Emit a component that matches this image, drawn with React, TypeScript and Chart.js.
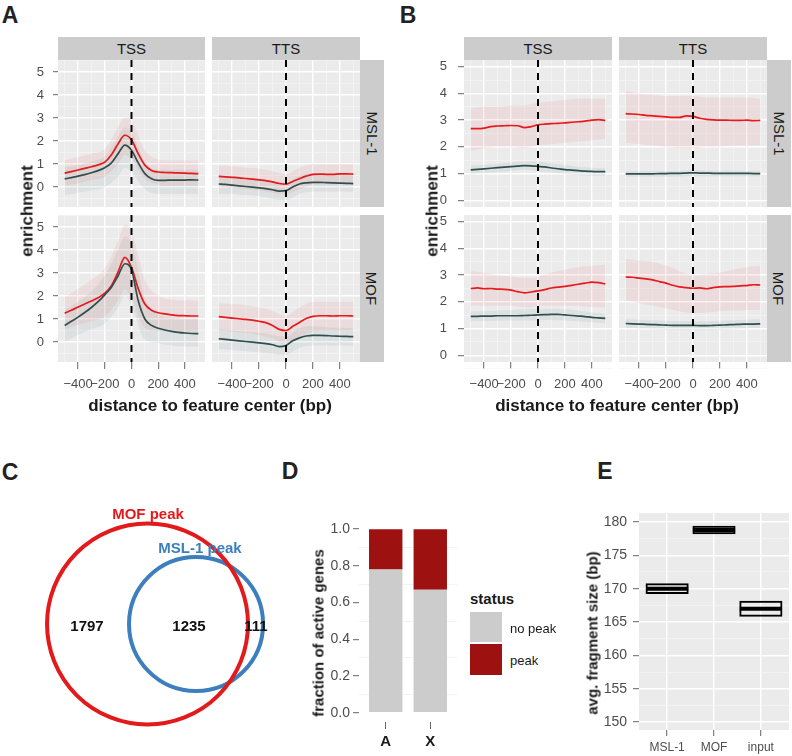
import React, { useEffect, useRef } from 'react';
import { Chart, registerables } from 'chart.js';

Chart.register(...registerables);
const FONT = '"Liberation Sans", Arial, Helvetica, sans-serif';
Chart.defaults.font.family = FONT;

// ---------- shared axes for panels A and B ----------
const X_BP = [-500, -450, -400, -350, -300, -250, -200, -150, -100, -50, 0, 50, 100, 150, 200, 250, 300, 350, 400, 450, 500];
const RIB_X = [-500, -400, -300, -200, -100, -50, 0, 100, 200, 300, 400, 500];
const X_GRID = [-500, -400, -300, -200, -100, 0, 100, 200, 300, 400, 500];
const X_MAJOR = [-400, -200, 0, 200, 400];
const X_RANGE = [-550, 550];
const VLINE_X = [0];
const Y_GRID = [-0.5, 0, 0.5, 1, 1.5, 2, 2.5, 3, 3.5, 4, 4.5, 5, 5.5];
const Y_MAJOR = [0, 1, 2, 3, 4, 5];
const A_Y_RANGE = [-0.87, 5.52];
const B_Y_RANGE = [-0.25, 5.25];

// ---------- panel A ----------
const A_TSS_MSL1_RED = [0.60, 0.67, 0.74, 0.81, 0.88, 0.96, 1.08, 1.40, 1.88, 2.25, 2.05, 1.45, 0.95, 0.72, 0.65, 0.63, 0.62, 0.61, 0.60, 0.59, 0.58];
const A_TSS_MSL1_DARK = [0.35, 0.41, 0.47, 0.54, 0.62, 0.71, 0.84, 1.05, 1.45, 1.82, 1.60, 1.05, 0.58, 0.36, 0.29, 0.29, 0.30, 0.30, 0.30, 0.31, 0.30];
const A_TSS_MSL1_RED_HI = [1.15, 1.3, 1.45, 1.65, 2.6, 3.05, 2.9, 1.6, 1.2, 1.15, 1.15, 1.15];
const A_TSS_MSL1_RED_LO = [0.05, 0.15, 0.3, 0.45, 1.0, 1.4, 1.2, 0.35, 0.1, 0.05, 0.05, 0.05];
const A_TSS_MSL1_DARK_HI = [0.85, 0.95, 1.1, 1.35, 2.2, 2.6, 2.4, 1.1, 0.75, 0.75, 0.75, 0.75];
const A_TSS_MSL1_DARK_LO = [-0.35, -0.25, -0.15, 0.0, 0.45, 0.85, 0.65, -0.1, -0.3, -0.3, -0.3, -0.3];

const A_TTS_MSL1_RED = [0.46, 0.44, 0.42, 0.40, 0.37, 0.34, 0.31, 0.28, 0.22, 0.15, 0.12, 0.24, 0.36, 0.47, 0.55, 0.56, 0.55, 0.55, 0.57, 0.57, 0.56];
const A_TTS_MSL1_DARK = [0.13, 0.11, 0.08, 0.05, 0.02, -0.01, -0.04, -0.07, -0.12, -0.18, -0.16, 0.0, 0.13, 0.18, 0.20, 0.20, 0.19, 0.18, 0.17, 0.16, 0.15];
const A_TTS_MSL1_RED_HI = [0.95, 0.9, 0.85, 0.8, 0.7, 0.6, 0.55, 0.85, 1.0, 1.0, 1.0, 1.0];
const A_TTS_MSL1_RED_LO = [0.0, -0.02, -0.1, -0.15, -0.25, -0.3, -0.3, -0.1, 0.1, 0.1, 0.1, 0.1];
const A_TTS_MSL1_DARK_HI = [0.5, 0.45, 0.4, 0.35, 0.25, 0.2, 0.2, 0.5, 0.6, 0.55, 0.55, 0.5];
const A_TTS_MSL1_DARK_LO = [-0.3, -0.3, -0.35, -0.4, -0.5, -0.55, -0.55, -0.3, -0.2, -0.2, -0.2, -0.2];

const A_TSS_MOF_RED = [1.25, 1.38, 1.52, 1.65, 1.78, 1.92, 2.12, 2.45, 3.05, 3.68, 3.25, 2.32, 1.65, 1.38, 1.27, 1.22, 1.18, 1.15, 1.14, 1.13, 1.13];
const A_TSS_MOF_DARK = [0.72, 0.90, 1.08, 1.28, 1.50, 1.75, 2.05, 2.38, 2.88, 3.40, 3.15, 1.80, 1.00, 0.72, 0.60, 0.52, 0.46, 0.42, 0.39, 0.37, 0.36];
const A_TSS_MOF_RED_HI = [1.95, 2.3, 2.7, 3.2, 4.4, 5.1, 4.8, 2.7, 2.0, 1.85, 1.8, 1.8];
const A_TSS_MOF_RED_LO = [0.55, 0.75, 0.9, 1.1, 1.8, 2.3, 1.9, 0.6, 0.5, 0.45, 0.45, 0.45];
const A_TSS_MOF_DARK_HI = [1.4, 1.75, 2.2, 2.9, 4.0, 4.6, 4.3, 1.9, 1.2, 1.05, 1.0, 1.0];
const A_TSS_MOF_DARK_LO = [0.0, 0.3, 0.55, 0.8, 1.5, 2.0, 1.6, 0.1, -0.05, -0.15, -0.2, -0.2];

const A_TTS_MOF_RED = [1.10, 1.07, 1.04, 1.01, 0.98, 0.95, 0.90, 0.84, 0.72, 0.55, 0.50, 0.68, 0.85, 1.02, 1.11, 1.14, 1.14, 1.13, 1.14, 1.14, 1.13];
const A_TTS_MOF_DARK = [0.14, 0.11, 0.08, 0.05, 0.02, -0.01, -0.04, -0.07, -0.12, -0.20, -0.15, 0.05, 0.18, 0.26, 0.29, 0.29, 0.28, 0.26, 0.25, 0.24, 0.23];
const A_TTS_MOF_RED_HI = [1.7, 1.65, 1.6, 1.5, 1.35, 1.2, 1.15, 1.5, 1.75, 1.75, 1.75, 1.75];
const A_TTS_MOF_RED_LO = [0.5, 0.45, 0.4, 0.3, 0.15, 0.0, -0.05, 0.25, 0.45, 0.5, 0.5, 0.5];
const A_TTS_MOF_DARK_HI = [0.55, 0.5, 0.45, 0.4, 0.3, 0.25, 0.25, 0.6, 0.7, 0.65, 0.62, 0.6];
const A_TTS_MOF_DARK_LO = [-0.3, -0.35, -0.4, -0.45, -0.5, -0.55, -0.55, -0.25, -0.15, -0.15, -0.15, -0.15];

// ---------- panel B ----------
const B_TSS_MSL1_RED = [2.68, 2.68, 2.70, 2.76, 2.78, 2.79, 2.80, 2.79, 2.72, 2.76, 2.82, 2.85, 2.87, 2.88, 2.90, 2.92, 2.94, 2.96, 3.00, 3.02, 2.99];
const B_TSS_MSL1_DARK = [1.14, 1.16, 1.18, 1.20, 1.22, 1.24, 1.26, 1.28, 1.30, 1.29, 1.27, 1.25, 1.21, 1.18, 1.15, 1.13, 1.11, 1.09, 1.08, 1.07, 1.07];
const B_TSS_MSL1_RED_HI = [3.45, 3.5, 3.5, 3.55, 3.55, 3.6, 3.65, 3.7, 3.75, 3.8, 3.8, 3.8];
const B_TSS_MSL1_RED_LO = [1.85, 1.95, 2.0, 2.0, 1.95, 2.0, 2.05, 2.1, 2.15, 2.2, 2.25, 2.3];
const B_TSS_MSL1_DARK_HI = [1.3, 1.33, 1.37, 1.42, 1.46, 1.46, 1.45, 1.38, 1.32, 1.26, 1.22, 1.2];
const B_TSS_MSL1_DARK_LO = [0.98, 1.02, 1.05, 1.1, 1.14, 1.12, 1.1, 1.04, 0.98, 0.94, 0.92, 0.92];

const B_TTS_MSL1_RED = [3.24, 3.23, 3.21, 3.18, 3.16, 3.14, 3.12, 3.10, 3.10, 3.16, 3.14, 3.07, 3.03, 3.01, 3.00, 3.00, 2.99, 2.99, 3.00, 2.98, 2.99];
const B_TTS_MSL1_DARK = [0.99, 0.99, 0.99, 0.99, 0.99, 1.00, 1.00, 1.01, 1.01, 1.02, 1.03, 1.02, 1.02, 1.01, 1.01, 1.01, 1.01, 1.01, 1.01, 1.00, 1.00];
const B_TTS_MSL1_RED_HI = [4.1, 4.0, 3.95, 3.9, 3.9, 3.9, 3.9, 3.85, 3.85, 3.85, 3.85, 3.8];
const B_TTS_MSL1_RED_LO = [2.15, 2.1, 2.05, 2.0, 1.95, 1.95, 1.95, 2.0, 2.0, 2.05, 2.05, 2.05];
const B_TTS_MSL1_DARK_HI = [1.1, 1.1, 1.1, 1.1, 1.1, 1.12, 1.13, 1.12, 1.11, 1.11, 1.1, 1.1];
const B_TTS_MSL1_DARK_LO = [0.88, 0.88, 0.88, 0.88, 0.89, 0.9, 0.91, 0.9, 0.9, 0.9, 0.9, 0.9];

const B_TSS_MOF_RED = [2.50, 2.52, 2.49, 2.50, 2.48, 2.47, 2.44, 2.38, 2.34, 2.37, 2.41, 2.46, 2.52, 2.55, 2.58, 2.62, 2.66, 2.70, 2.74, 2.72, 2.67];
const B_TSS_MOF_DARK = [1.46, 1.46, 1.47, 1.47, 1.48, 1.48, 1.48, 1.48, 1.49, 1.50, 1.51, 1.52, 1.53, 1.53, 1.51, 1.49, 1.47, 1.45, 1.42, 1.40, 1.38];
const B_TSS_MOF_RED_HI = [3.15, 3.1, 3.0, 2.95, 2.9, 2.9, 2.95, 3.1, 3.2, 3.3, 3.35, 3.4];
const B_TSS_MOF_RED_LO = [1.85, 1.85, 1.85, 1.85, 1.8, 1.8, 1.85, 1.85, 1.85, 1.85, 1.8, 1.8];
const B_TSS_MOF_DARK_HI = [1.65, 1.66, 1.68, 1.7, 1.72, 1.73, 1.73, 1.74, 1.72, 1.68, 1.6, 1.55];
const B_TSS_MOF_DARK_LO = [1.28, 1.28, 1.29, 1.3, 1.3, 1.3, 1.31, 1.32, 1.3, 1.27, 1.24, 1.2];

const B_TTS_MOF_RED = [2.93, 2.92, 2.89, 2.86, 2.82, 2.76, 2.70, 2.62, 2.56, 2.53, 2.51, 2.52, 2.49, 2.53, 2.56, 2.57, 2.58, 2.60, 2.61, 2.64, 2.63];
const B_TTS_MOF_DARK = [1.19, 1.18, 1.17, 1.16, 1.15, 1.14, 1.13, 1.12, 1.12, 1.12, 1.12, 1.11, 1.11, 1.12, 1.13, 1.14, 1.15, 1.16, 1.17, 1.17, 1.18];
const B_TTS_MOF_RED_HI = [3.6, 3.55, 3.5, 3.35, 3.15, 3.05, 3.0, 3.05, 3.1, 3.2, 3.3, 3.35];
const B_TTS_MOF_RED_LO = [2.05, 1.95, 1.85, 1.75, 1.65, 1.6, 1.58, 1.6, 1.65, 1.68, 1.7, 1.7];
const B_TTS_MOF_DARK_HI = [1.35, 1.33, 1.31, 1.29, 1.28, 1.28, 1.28, 1.27, 1.29, 1.31, 1.33, 1.34];
const B_TTS_MOF_DARK_LO = [1.02, 1.0, 0.98, 0.96, 0.95, 0.95, 0.95, 0.94, 0.96, 0.98, 1.0, 1.02];

// ---------- panel C (Venn, units of MOF radius) ----------
const VENN_SETS = ['MOF peak', 'MSL-1 peak'];
const VENN_CX = [0, 0.483];
const VENN_CY = [0, 0];
const VENN_R = [1, 0.667];
const VENN_COUNTS = ['1797', '1235', '111'];

// ---------- panel D ----------
const D_CATS = ['A', 'X'];
const D_X = [1, 2];
const D_NOPEAK = [0.78, 0.67];
const D_PEAK = [0.22, 0.33];
const D_Y_GRID = [0, 0.1, 0.2, 0.3, 0.4, 0.5, 0.6, 0.7, 0.8, 0.9, 1.0];
const D_Y_MAJOR = [0, 0.2, 0.4, 0.6, 0.8, 1.0];

// ---------- panel E ----------
const E_CATS = ['MSL-1', 'MOF', 'input'];
const E_X = [1, 2, 3];
const E_LO = [169.2, 178.15, 165.8];
const E_HI = [170.8, 179.45, 168.2];
const E_MED = [170.0, 178.8, 167.0];
const E_Y_GRID = [150, 152.5, 155, 157.5, 160, 162.5, 165, 167.5, 170, 172.5, 175, 177.5, 180];
const E_Y_MAJOR = [150, 155, 160, 165, 170, 175, 180];
const E_WIDTH = 0.92;

// ---------- styles ----------
const RED = '#E41A1C';
const DARK = '#2F4F4F';
const RED_BAND = 'rgba(228,26,28,0.07)';
const DARK_BAND = 'rgba(47,79,79,0.07)';
const PANEL_BG = '#EBEBEB';
const STRIP_BG = '#CCCCCC';
const MAJOR_COL = '#FFFFFF';
const MINOR_COL = '#F5F5F5';
const TICK_COL = '#666666';
const TICK_TXT = '#4D4D4D';
const NONE = 'rgba(0,0,0,0)';
const VENN_COLORS = ['#E31A1C', '#3C7FBC'];
const D_GRAY = '#CCCCCC';
const D_RED = '#9E1111';

const panelBg = {
  id: 'panelBg',
  beforeDraw(chart: any, _a: any, opts: any) {
    const { ctx, chartArea: a } = chart;
    if (!a) return;
    ctx.save();
    ctx.fillStyle = opts.color || PANEL_BG;
    ctx.fillRect(a.left, a.top, a.right - a.left, a.bottom - a.top);
    ctx.restore();
  },
};

const zeroPad = (s: any) => {
  s.paddingLeft = 0; s.paddingRight = 0; s.paddingTop = 0; s.paddingBottom = 0;
};

const baseOpts = (bg: string) => ({
  animation: false,
  responsive: false,
  events: [],
  layout: { padding: 0, autoPadding: false },
  plugins: { legend: { display: false }, tooltip: { enabled: false }, panelBg: { color: bg } },
});

function ChartCanvas({ x, y, w, h, make }: any) {
  const ref = useRef<HTMLCanvasElement>(null);
  useEffect(() => {
    const c = new Chart(ref.current as HTMLCanvasElement, make());
    return () => c.destroy();
  }, []);
  return <canvas ref={ref} width={w} height={h} style={{ position: 'absolute', left: x, top: y, width: w, height: h }} />;
}

const fmtBp = (v: number) => (v < 0 ? '\u2212' + Math.abs(v) : String(v));
const pts = (xs: number[], ys: number[]) => xs.map((x, i) => ({ x, y: ys[i] }));

const YW = 50;
const XH = 34;

function facetConfig(p: any) {
  const majX = (v: any) => X_MAJOR.includes(v);
  const majY = (v: any) => Y_MAJOR.includes(v);
  const band = (hi: number[], lo: number[], color: string) => [
    { data: pts(RIB_X, hi), fill: '+1', backgroundColor: color, borderWidth: 0, pointRadius: 0, order: 3, cubicInterpolationMode: 'monotone' },
    { data: pts(RIB_X, lo), fill: false, backgroundColor: NONE, borderWidth: 0, pointRadius: 0, order: 3, cubicInterpolationMode: 'monotone' },
  ];
  return {
    type: 'line',
    data: {
      datasets: [
        ...band(p.redHi, p.redLo, RED_BAND),
        ...band(p.darkHi, p.darkLo, DARK_BAND),
        { data: pts(X_BP, p.dark), borderColor: DARK, borderWidth: 1.7, pointRadius: 0, fill: false, order: 1, cubicInterpolationMode: 'monotone' },
        { data: pts(X_BP, p.red), borderColor: RED, borderWidth: 1.7, pointRadius: 0, fill: false, order: 1, cubicInterpolationMode: 'monotone' },
        { data: [{ x: VLINE_X[0], y: p.yr[1] }, { x: VLINE_X[0], y: p.yr[0] }], borderColor: '#000', borderWidth: 2, borderDash: [7, 6], pointRadius: 0, fill: false, order: 0 },
      ],
    },
    plugins: [panelBg],
    options: {
      ...baseOpts(PANEL_BG),
      scales: {
        x: {
          type: 'linear', min: X_RANGE[0], max: X_RANGE[1],
          border: { display: false },
          afterBuildTicks: (s: any) => { s.ticks = X_GRID.map((v) => ({ value: v })); },
          afterFit: (s: any) => { s.height = p.showX ? XH : 0; zeroPad(s); },
          ticks: { display: p.showX, autoSkip: false, maxRotation: 0, minRotation: 0, padding: 8, color: TICK_TXT, font: { size: 13 }, callback: (v: any) => (majX(v) ? fmtBp(v) : '') },
          grid: {
            color: (c: any) => (majX(c.tick?.value) ? MAJOR_COL : MINOR_COL),
            lineWidth: (c: any) => (majX(c.tick?.value) ? 1.4 : 0.7),
            drawTicks: p.showX, tickLength: 7, tickWidth: 1,
            tickColor: (c: any) => (majX(c.tick?.value) ? TICK_COL : NONE),
          },
        },
        y: {
          type: 'linear', min: p.yr[0], max: p.yr[1],
          border: { display: false },
          afterBuildTicks: (s: any) => { s.ticks = Y_GRID.map((v) => ({ value: v })); },
          afterFit: (s: any) => { s.width = p.showY ? YW : 0; zeroPad(s); },
          ticks: { display: p.showY, autoSkip: false, padding: p.yPad, color: TICK_TXT, font: { size: 13 }, callback: (v: any) => (majY(v) ? String(v) : '') },
          grid: {
            color: (c: any) => (majY(c.tick?.value) ? MAJOR_COL : MINOR_COL),
            lineWidth: (c: any) => (majY(c.tick?.value) ? 1.4 : 0.7),
            drawTicks: p.showY, tickLength: p.yTick, tickWidth: 1,
            tickColor: (c: any) => (majY(c.tick?.value) ? TICK_COL : NONE),
          },
        },
      },
    },
  };
}

const mk = (red: any, dark: any, redHi: any, redLo: any, darkHi: any, darkLo: any) => ({ red, dark, redHi, redLo, darkHi, darkLo });

const FACETS = [
  { left: 58, top: 60, w: 147, h: 147, showY: true, showX: false, yr: A_Y_RANGE, yPad: 9, yTick: 5, ...mk(A_TSS_MSL1_RED, A_TSS_MSL1_DARK, A_TSS_MSL1_RED_HI, A_TSS_MSL1_RED_LO, A_TSS_MSL1_DARK_HI, A_TSS_MSL1_DARK_LO) },
  { left: 212, top: 60, w: 148, h: 147, showY: false, showX: false, yr: A_Y_RANGE, yPad: 9, yTick: 5, ...mk(A_TTS_MSL1_RED, A_TTS_MSL1_DARK, A_TTS_MSL1_RED_HI, A_TTS_MSL1_RED_LO, A_TTS_MSL1_DARK_HI, A_TTS_MSL1_DARK_LO) },
  { left: 58, top: 215, w: 147, h: 147, showY: true, showX: true, yr: A_Y_RANGE, yPad: 9, yTick: 5, ...mk(A_TSS_MOF_RED, A_TSS_MOF_DARK, A_TSS_MOF_RED_HI, A_TSS_MOF_RED_LO, A_TSS_MOF_DARK_HI, A_TSS_MOF_DARK_LO) },
  { left: 212, top: 215, w: 148, h: 147, showY: false, showX: true, yr: A_Y_RANGE, yPad: 9, yTick: 5, ...mk(A_TTS_MOF_RED, A_TTS_MOF_DARK, A_TTS_MOF_RED_HI, A_TTS_MOF_RED_LO, A_TTS_MOF_DARK_HI, A_TTS_MOF_DARK_LO) },
  { left: 464, top: 60, w: 148, h: 147, showY: true, showX: false, yr: B_Y_RANGE, yPad: 11, yTick: 6, ...mk(B_TSS_MSL1_RED, B_TSS_MSL1_DARK, B_TSS_MSL1_RED_HI, B_TSS_MSL1_RED_LO, B_TSS_MSL1_DARK_HI, B_TSS_MSL1_DARK_LO) },
  { left: 619, top: 60, w: 148, h: 147, showY: false, showX: false, yr: B_Y_RANGE, yPad: 11, yTick: 6, ...mk(B_TTS_MSL1_RED, B_TTS_MSL1_DARK, B_TTS_MSL1_RED_HI, B_TTS_MSL1_RED_LO, B_TTS_MSL1_DARK_HI, B_TTS_MSL1_DARK_LO) },
  { left: 464, top: 215, w: 148, h: 147, showY: true, showX: true, yr: B_Y_RANGE, yPad: 11, yTick: 6, ...mk(B_TSS_MOF_RED, B_TSS_MOF_DARK, B_TSS_MOF_RED_HI, B_TSS_MOF_RED_LO, B_TSS_MOF_DARK_HI, B_TSS_MOF_DARK_LO) },
  { left: 619, top: 215, w: 148, h: 147, showY: false, showX: true, yr: B_Y_RANGE, yPad: 11, yTick: 6, ...mk(B_TTS_MOF_RED, B_TTS_MOF_DARK, B_TTS_MOF_RED_HI, B_TTS_MOF_RED_LO, B_TTS_MOF_DARK_HI, B_TTS_MOF_DARK_LO) },
];

// ---------- Venn ----------
const VENN_BOX = { x: 0, y: 480, w: 270, h: 276 };
const VENN_XR = [-1.468, 1.219];
const VENN_YR = [-1.313, 1.433];

function vennConfig() {
  return {
    type: 'scatter',
    data: {
      datasets: VENN_SETS.map((name, i) => ({
        label: name,
        data: [{ x: VENN_CX[i], y: VENN_CY[i] }],
        pointRadius: (ctx: any) => {
          const s = ctx.chart.scales.x;
          return Math.abs(s.getPixelForValue(VENN_R[i]) - s.getPixelForValue(0)) || 1;
        },
        pointBorderWidth: 4,
        pointBorderColor: VENN_COLORS[i],
        pointBackgroundColor: NONE,
        clip: false,
      })),
    },
    options: {
      ...baseOpts('#fff'),
      plugins: { legend: { display: false }, tooltip: { enabled: false } },
      scales: {
        x: { type: 'linear', display: false, min: VENN_XR[0], max: VENN_XR[1] },
        y: { type: 'linear', display: false, min: VENN_YR[0], max: VENN_YR[1] },
      },
    },
  };
}

// ---------- D ----------
const D_PANEL = { left: 359, top: 520, w: 98, h: 202 };
const D_YW = 60;
const D_XH = 34;
function dConfig() {
  const majY = (v: any) => D_Y_MAJOR.some((m) => Math.abs(m - v) < 1e-9);
  return {
    type: 'bar',
    data: {
      datasets: [
        { label: 'no peak', data: pts(D_X, D_NOPEAK), backgroundColor: D_GRAY, borderWidth: 0 },
        { label: 'peak', data: pts(D_X, D_PEAK), backgroundColor: D_RED, borderWidth: 0 },
      ],
    },
    plugins: [panelBg],
    options: {
      ...baseOpts('#FFFFFF'),
      datasets: { bar: { barPercentage: 0.75, categoryPercentage: 1 } },
      scales: {
        x: {
          type: 'linear', min: 0.4, max: 2.6, stacked: true, offset: false,
          border: { display: false },
          afterBuildTicks: (s: any) => { s.ticks = D_X.map((v) => ({ value: v })); },
          afterFit: (s: any) => { s.height = D_XH; zeroPad(s); },
          ticks: { autoSkip: false, maxRotation: 0, padding: 4, color: '#1a1a1a', font: { size: 15, weight: 'bold' }, callback: (v: any) => D_CATS[D_X.indexOf(v)] ?? '' },
          grid: { offset: false, color: NONE, drawTicks: true, tickLength: 7, tickWidth: 1, tickColor: TICK_COL },
        },
        y: {
          type: 'linear', min: -0.05, max: 1.05, stacked: true,
          border: { display: false },
          afterBuildTicks: (s: any) => { s.ticks = D_Y_GRID.map((v) => ({ value: v })); },
          afterFit: (s: any) => { s.width = D_YW; zeroPad(s); },
          ticks: { autoSkip: false, padding: 3, color: TICK_TXT, font: { size: 14 }, callback: (v: any) => (majY(v) ? Number(v).toFixed(1) : '') },
          grid: {
            color: (c: any) => (majY(c.tick?.value) ? '#FFFFFF' : '#F0F0F0'),
            lineWidth: (c: any) => (majY(c.tick?.value) ? 1.4 : 0.8),
            tickLength: 6, tickWidth: 1,
            tickColor: (c: any) => (majY(c.tick?.value) ? TICK_COL : NONE),
          },
        },
      },
    },
  };
}

// ---------- E ----------
const E_PANEL = { left: 639, top: 513, w: 150, h: 217 };
const E_YW = 55;
const E_XH = 26;
function eConfig() {
  const majY = (v: any) => E_Y_MAJOR.includes(v);
  return {
    type: 'bar',
    data: {
      datasets: [
        {
          type: 'bar',
          data: E_X.map((x, i) => ({ x, y: [E_LO[i], E_HI[i]] })),
          backgroundColor: NONE, borderColor: '#000', borderWidth: 2, borderSkipped: false,
          barPercentage: E_WIDTH, categoryPercentage: 1, order: 2,
        },
        {
          type: 'line',
          data: pts(E_X, E_MED),
          showLine: false, pointStyle: 'line',
          pointRadius: (ctx: any) => {
            const s = ctx.chart.scales.x;
            return Math.abs(s.getPixelForValue(E_X[0] + 0.45) - s.getPixelForValue(E_X[0])) || 1;
          },
          pointBorderWidth: 4, pointBorderColor: '#000', order: 1,
        },
      ],
    },
    plugins: [panelBg],
    options: {
      ...baseOpts(PANEL_BG),
      scales: {
        x: {
          type: 'linear', min: 0.4, max: 3.6, offset: false,
          border: { display: false },
          afterBuildTicks: (s: any) => { s.ticks = E_X.map((v) => ({ value: v })); },
          afterFit: (s: any) => { s.height = E_XH; zeroPad(s); },
          ticks: { autoSkip: false, maxRotation: 0, padding: 4, color: TICK_TXT, font: { size: 12 }, callback: (v: any) => E_CATS[E_X.indexOf(v)] ?? '' },
          grid: { offset: false, color: MAJOR_COL, lineWidth: 1.4, tickLength: 6, tickWidth: 1, tickColor: TICK_COL },
        },
        y: {
          type: 'linear', min: 148.8, max: 181.35,
          border: { display: false },
          afterBuildTicks: (s: any) => { s.ticks = E_Y_GRID.map((v) => ({ value: v })); },
          afterFit: (s: any) => { s.width = E_YW; zeroPad(s); },
          ticks: { autoSkip: false, padding: 6, color: TICK_TXT, font: { size: 14 }, callback: (v: any) => (majY(v) ? String(v) : '') },
          grid: {
            color: (c: any) => (majY(c.tick?.value) ? MAJOR_COL : MINOR_COL),
            lineWidth: (c: any) => (majY(c.tick?.value) ? 1.4 : 0.7),
            tickLength: 6, tickWidth: 1,
            tickColor: (c: any) => (majY(c.tick?.value) ? TICK_COL : NONE),
          },
        },
      },
    },
  };
}

// ---------- HTML helpers ----------
function Txt({ x, y, size = 14, bold = false, color = '#1a1a1a', rot = 0, left = false, children }: any) {
  return (
    <div
      style={{
        position: 'absolute', left: x, top: y,
        transform: `translate(${left ? '0' : '-50%'},-50%) rotate(${rot}deg)`,
        fontSize: size, fontWeight: bold ? 700 : 400, color, lineHeight: 1, whiteSpace: 'nowrap',
      }}
    >
      {children}
    </div>
  );
}

function Strip({ x, y, w, h, text, vertical = false }: any) {
  return (
    <div style={{ position: 'absolute', left: x, top: y, width: w, height: h, background: STRIP_BG, display: 'flex', alignItems: 'center', justifyContent: 'center' }}>
      <span style={{ fontSize: 15, color: '#1a1a1a', lineHeight: 1, whiteSpace: 'nowrap', transform: vertical ? 'rotate(90deg)' : undefined }}>{text}</span>
    </div>
  );
}

export default function App() {
  return (
    <div style={{ position: 'absolute', left: 0, top: 0, width: 792, height: 756, background: '#fff', overflow: 'hidden', fontFamily: FONT }}>
      {FACETS.map((f, i) => {
        const cx = f.left - (f.showY ? YW : 0);
        const cw = f.w + (f.showY ? YW : 0);
        const chh = f.h + (f.showX ? XH : 0);
        return <ChartCanvas key={i} x={cx} y={f.top} w={cw} h={chh} make={() => facetConfig(f)} />;
      })}

      {/* strips A */}
      <Strip x={58} y={37} w={147} h={23} text="TSS" />
      <Strip x={212} y={37} w={148} h={23} text="TTS" />
      <Strip x={360} y={60} w={24} h={147} text="MSL-1" vertical />
      <Strip x={360} y={215} w={24} h={147} text="MOF" vertical />
      {/* strips B */}
      <Strip x={464} y={37} w={148} h={23} text="TSS" />
      <Strip x={619} y={37} w={148} h={23} text="TTS" />
      <Strip x={767} y={60} w={24} h={147} text="MSL-1" vertical />
      <Strip x={767} y={215} w={24} h={147} text="MOF" vertical />

      {/* panel labels */}
      <Txt x={10} y={15} size={23} bold color="#222">A</Txt>
      <Txt x={408} y={15} size={23} bold color="#222">B</Txt>
      <Txt x={10} y={472} size={23} bold color="#222">C</Txt>
      <Txt x={290} y={471} size={23} bold color="#222">D</Txt>
      <Txt x={605} y={471} size={23} bold color="#222">E</Txt>

      {/* axis titles A/B */}
      <Txt x={27} y={211} size={17} bold rot={-90}>enrichment</Txt>
      <Txt x={432} y={211} size={17} bold rot={-90}>enrichment</Txt>
      <Txt x={210} y={405} size={17} bold>distance to feature center (bp)</Txt>
      <Txt x={617} y={405} size={17} bold>distance to feature center (bp)</Txt>

      {/* Venn */}
      <ChartCanvas x={VENN_BOX.x} y={VENN_BOX.y} w={VENN_BOX.w} h={VENN_BOX.h} make={vennConfig} />
      <Txt x={148} y={513} size={15} bold color={VENN_COLORS[0]}>{VENN_SETS[0]}</Txt>
      <Txt x={200} y={547} size={15} bold color={VENN_COLORS[1]}>{VENN_SETS[1]}</Txt>
      <Txt x={87} y={625} size={15} bold color="#111">{VENN_COUNTS[0]}</Txt>
      <Txt x={189} y={625} size={15} bold color="#111">{VENN_COUNTS[1]}</Txt>
      <Txt x={256} y={625} size={15} bold color="#111">{VENN_COUNTS[2]}</Txt>

      {/* D */}
      <ChartCanvas x={D_PANEL.left - D_YW} y={D_PANEL.top} w={D_PANEL.w + D_YW} h={D_PANEL.h + D_XH} make={dConfig} />
      <Txt x={318} y={633} size={15} bold rot={-90}>fraction of active genes</Txt>
      <Txt x={470} y={598} size={15} bold left>status</Txt>
      <div style={{ position: 'absolute', left: 470, top: 612, width: 32, height: 30, background: D_GRAY }} />
      <div style={{ position: 'absolute', left: 470, top: 644, width: 32, height: 31, background: D_RED }} />
      <Txt x={510} y={628} size={13} left color="#1a1a1a">no peak</Txt>
      <Txt x={510} y={660} size={13} left color="#1a1a1a">peak</Txt>

      {/* E */}
      <ChartCanvas x={E_PANEL.left - E_YW} y={E_PANEL.top} w={E_PANEL.w + E_YW} h={E_PANEL.h + E_XH} make={eConfig} />
      <Txt x={592} y={633} size={15} bold rot={-90}>avg. fragment size (bp)</Txt>
    </div>
  );
}
